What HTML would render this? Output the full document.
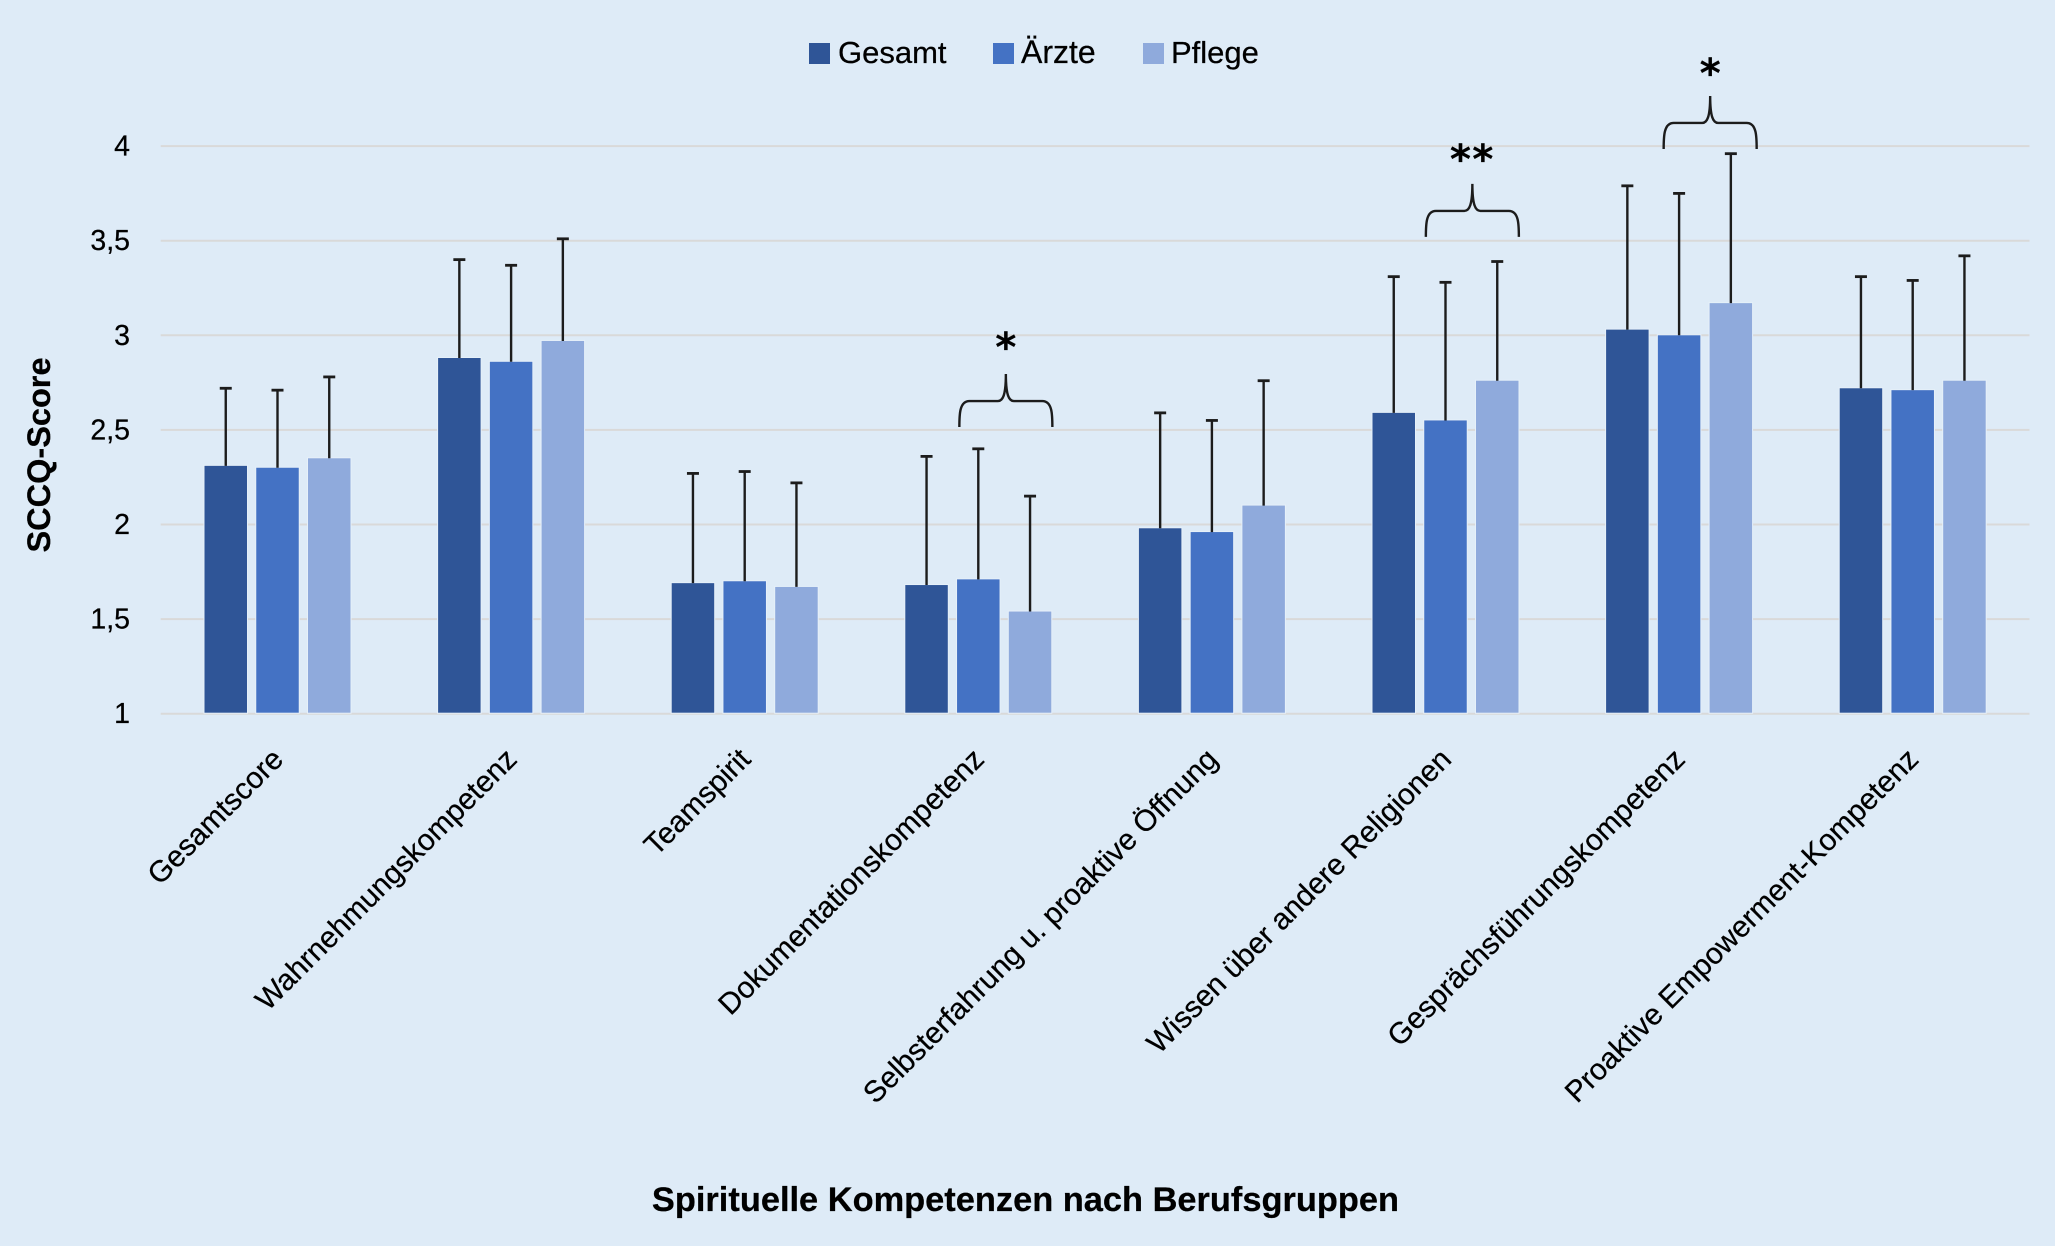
<!DOCTYPE html>
<html lang="de">
<head>
<meta charset="utf-8">
<title>Spirituelle Kompetenzen nach Berufsgruppen</title>
<style>
html,body{margin:0;padding:0;background:#deebf7;width:2055px;height:1246px;overflow:hidden}
svg{display:block}
text{font-family:"Liberation Sans",sans-serif;fill:#000;stroke:#000;stroke-width:.25}
</style>
</head>
<body>
<svg id="chart" xmlns="http://www.w3.org/2000/svg" width="2055" height="1246" viewBox="0 0 2055 1246">
  <rect x="0" y="0" width="2055" height="1246" fill="#deebf7"/>
  <g id="grid"></g>
  <g id="yticks"></g>
  <g id="bars"></g>
  <g id="errs"></g>
  <g id="xlabels"></g>
  <g id="sig"></g>
  <g>
    <g>
      <rect x="809" y="43" width="21" height="21" fill="#2f5597"/>
      <text x="838" y="63" font-size="31">Gesamt</text>
    </g>
    <g>
      <rect x="993" y="43" width="21" height="21" fill="#4472c4"/>
      <text x="1021" y="63" font-size="32">Ärzte</text>
    </g>
    <g>
      <rect x="1143" y="43" width="21" height="21" fill="#8faadc"/>
      <text x="1171" y="63" font-size="31">Pflege</text>
    </g>
  </g>
  <text transform="translate(50 455) rotate(-90)" text-anchor="middle" font-size="32.5" font-weight="700">SCCQ-Score</text>
  <text x="1025.5" y="1211" text-anchor="middle" font-size="34.4" font-weight="700">Spirituelle Kompetenzen nach Berufsgruppen</text>
</svg>
<script>
const categories = ["Gesamtscore","Wahrnehmungskompetenz","Teamspirit","Dokumentationskompetenz","Selbsterfahrung u. proaktive Öffnung","Wissen über andere Religionen","Gesprächsführungskompetenz","Proaktive Empowerment-Kompetenz"];
const gesamt = [2.31,2.88,1.69,1.68,1.98,2.59,3.03,2.72];
const aerzte = [2.30,2.86,1.70,1.71,1.96,2.55,3.00,2.71];
const pflege = [2.35,2.97,1.67,1.54,2.10,2.76,3.17,2.76];
const gesamtErr = [0.41,0.52,0.58,0.68,0.61,0.72,0.76,0.59];
const aerzteErr = [0.41,0.51,0.58,0.69,0.59,0.73,0.75,0.58];
const pflegeErr = [0.43,0.54,0.55,0.61,0.66,0.63,0.79,0.66];
const yTicks = [1,1.5,2,2.5,3,3.5,4];
const yTickLabels = ["1","1,5","2","2,5","3","3,5","4"];
const sigCategories = [3.118,5.115,6.133];
const sigLevels = [2.515,3.52,3.985];
const sigLabelLevels = [2.864,3.858,4.313];
const sigLabels = ["*","**","*"];

const NS = "http://www.w3.org/2000/svg";
const plotLeft = 160.7, plotRight = 2029.5, yBase = 713.7, unit = 189.2;
const band = (plotRight - plotLeft) / categories.length;
const barWidth = 42.5, barPitch = 51.75;
function yScale(v){ return yBase - (v - 1) * unit; }
function xCenter(i){ return plotLeft + band * (i + 0.5); }
function make(tag, parent, attrs){
  const el = document.createElementNS(NS, tag);
  for (const k in attrs) el.setAttribute(k, attrs[k]);
  parent.appendChild(el);
  return el;
}
const gGrid = document.getElementById("grid");
const gTicks = document.getElementById("yticks");
const gBars = document.getElementById("bars");
const gErrs = document.getElementById("errs");
const gLabels = document.getElementById("xlabels");
const gSig = document.getElementById("sig");

yTicks.forEach((t, i) => {
  const line = make("line", gGrid, {x1: plotLeft, x2: plotRight, y1: yScale(t), y2: yScale(t), stroke: "#d9d9d9", "stroke-width": 2});
  
  
  const label = make("text", gTicks, {x: 130, y: yScale(t) + 9.5, "text-anchor": "end", "font-size": 28.5});
  
  
  label.textContent = yTickLabels[i];
});

const seriesNames = ["gesamt","aerzte","pflege"];
const seriesColors = ["#2f5597","#4472c4","#8faadc"];
const seriesValues = [gesamt, aerzte, pflege];
const seriesErrors = [gesamtErr, aerzteErr, pflegeErr];

categories.forEach((c, i) => {
  seriesValues.forEach((vals, s) => {
    const cx = xCenter(i) + (s - 1) * barPitch;
    const top = yScale(vals[i]);
    const bar = make("rect", gBars, {x: cx - barWidth / 2 - 0.5, y: top - 0.5, width: barWidth + 1, height: yBase - top, fill: seriesColors[s], stroke: "#e6f0f9", "stroke-width": 1});
    
    
    const errTop = yScale(vals[i] + seriesErrors[s][i]);
    const stem = make("line", gErrs, {x1: cx, x2: cx, y1: top, y2: errTop, stroke: "#1c1c1c", "stroke-width": 2.4});
    
    
    const cap = make("line", gErrs, {x1: cx - 6, x2: cx + 6, y1: errTop, y2: errTop, stroke: "#1c1c1c", "stroke-width": 2.8});
    
    
  });
  const ax = xCenter(i) + 7.5, ay = 761;
  const t = make("text", gLabels, {transform: "translate(" + ax + " " + ay + ") rotate(-45)", "text-anchor": "end", "font-size": 29.8});
  
  
  t.textContent = c;
});

sigCategories.forEach((c, i) => {
  const cx = xCenter(c), b = yScale(sigLevels[i]), hw = 46.5;
  const d = "M" + (cx - hw) + " " + b +
    " C" + (cx - hw) + " " + (b - 12) + " " + (cx - hw) + " " + (b - 26) + " " + (cx - hw + 10) + " " + (b - 26) +
    " L" + (cx - 8) + " " + (b - 26) +
    " C" + (cx - 3) + " " + (b - 26) + " " + cx + " " + (b - 32) + " " + cx + " " + (b - 53) +
    " C" + cx + " " + (b - 32) + " " + (cx + 3) + " " + (b - 26) + " " + (cx + 8) + " " + (b - 26) +
    " L" + (cx + hw - 10) + " " + (b - 26) +
    " C" + (cx + hw) + " " + (b - 26) + " " + (cx + hw) + " " + (b - 12) + " " + (cx + hw) + " " + b;
  const brace = make("path", gSig, {d: d, fill: "none", stroke: "#1c1c1c", "stroke-width": 2.4});
  
  
  const star = make("text", gSig, {x: cx, y: yScale(sigLabelLevels[i]), "text-anchor": "middle", "font-size": 40, "font-weight": 700, "letter-spacing": sigLabels[i].length > 1 ? 1.5 : 0});
  star.setAttribute('style', 'font-family:"DejaVu Sans",sans-serif');
  
  
  star.textContent = sigLabels[i];
});
</script>
</body>
</html>
